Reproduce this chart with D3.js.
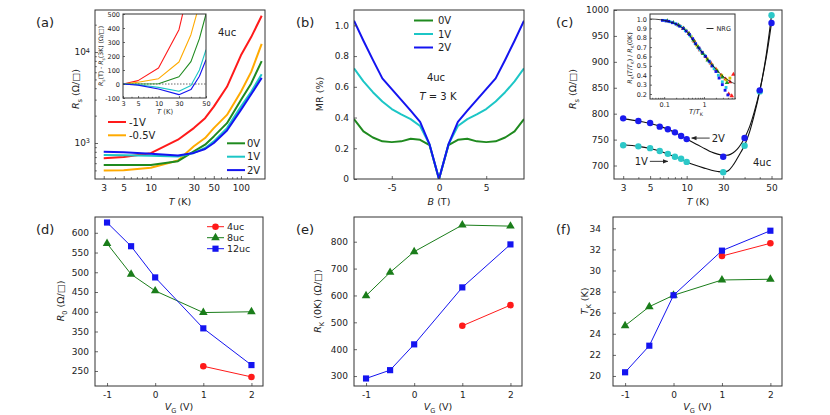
<!DOCTYPE html>
<html>
<head>
<meta charset="utf-8">
<script src="https://cdn.jsdelivr.net/npm/d3@7/dist/d3.min.js"></script>
<style>
  body { margin: 0; background: #fff; }
</style>
</head>
<body>
<script>
// ---------- panel (a): Rs(T) for five gate voltages ----------
const aTemps = [3, 5, 10, 20, 30, 40, 50, 70, 100, 130, 170];
const aRsM1  = [681, 700, 772, 1087, 1459, 1874, 2512, 4150, 9210, 14600, 25100];
const aRsM05 = [497, 503, 535, 641, 920, 1134, 1458, 2037, 3664, 6050, 12300];
const aRs0   = [573, 573, 573, 631, 811, 959, 1182, 1653, 2970, 4520, 7950];
const aRs1   = [740, 733, 726, 712, 778, 882, 1043, 1458, 2512, 3664, 5700];
const aRs2   = [803, 790, 762, 728, 778, 860, 1000, 1374, 2310, 3430, 5200];
const gateNames = ['-1V', '-0.5V', '0V', '1V', '2V'];
const gateColors = ['#ff1a1a', '#ffaa00', '#1f8a1f', '#1cc6c6', '#1414f0'];
const aXTicks = [3, 5, 10, 30, 50, 100];
const aXMinor = [4, 6, 7, 8, 9, 20, 40, 60, 70, 80, 90];
const aYTicks = [1000, 10000];
const aYMinor = [500, 600, 700, 800, 900, 2000, 3000, 4000, 5000, 6000, 7000, 8000, 9000, 20000];

// inset of (a): Rs(T) - Rs(3K)
const inTemps = [3, 5, 10, 20, 30, 40, 50];
const inM1  = [0, 24, 114, 388, 750, 1200, 1700];
const inM05 = [0, 12, 38, 157, 352, 570, 900];
const in0   = [0, 0, 2, 52, 160, 324, 500];
const in1   = [0, -5, -24, -52, -10, 100, 245];
const in2   = [0, -8, -36, -76, -40, 55, 174];
const inXTicks = [3, 5, 10, 20, 50];
const inXLabels = ['3', '5', '10', '30', '50'];
const inXMinor = [4, 6, 7, 8, 9, 30, 40];
const inYTicks = [-100, 0, 100, 200, 300, 400, 500];

// ---------- panel (b): magnetoresistance ----------
const bField = [-9, -8, -7, -6, -5, -4, -3, -2, -1, 0, 1, 2, 3, 4, 5, 6, 7, 8, 9];
const bMR0 = [0.39, 0.31, 0.27, 0.245, 0.24, 0.245, 0.262, 0.255, 0.22, 0, 0.22, 0.255, 0.262, 0.245, 0.24, 0.245, 0.27, 0.31, 0.39];
const bMR1 = [0.72, 0.635, 0.565, 0.505, 0.455, 0.42, 0.39, 0.345, 0.225, 0, 0.225, 0.345, 0.39, 0.42, 0.455, 0.505, 0.565, 0.635, 0.72];
const bMR2 = [1.03, 0.9, 0.775, 0.655, 0.585, 0.515, 0.445, 0.372, 0.225, 0, 0.225, 0.372, 0.445, 0.515, 0.585, 0.655, 0.775, 0.9, 1.03];
const bNames = ['0V', '1V', '2V'];
const bColors = ['#1f8a1f', '#1cc6c6', '#1414f0'];
const bXTicks = [-5, 0, 5];
const bYTicks = [0, 0.2, 0.4, 0.6, 0.8, 1.0];

// ---------- panel (c): Rs(T) with fits ----------
const cTemps = [3, 4, 5, 6, 7, 8, 9, 10, 20, 30, 40, 50];
const cRs2V = [791, 786, 782, 775, 770, 764, 757, 751, 717, 753, 845, 975];
const cRs1V = [739, 737, 733.5, 728, 722.5, 717, 713, 707, 687, 738, 843, 990];
const cFitT = [3, 4, 5, 6, 7, 8, 9, 10, 12, 14, 16, 18, 20, 22, 24, 26, 28, 30, 33, 36, 40, 45, 50];
const cFit2V = [790, 786, 781, 776, 770, 764, 757, 751, 741, 733, 726, 722, 720, 720, 724, 731, 741, 753, 775, 803, 845, 905, 975];
const cFit1V = [740, 737, 733, 728, 722, 717, 712, 707, 700, 695, 691, 688.5, 687.5, 690, 700, 713, 726, 739, 765, 797, 843, 910, 990];
const cXTicks = [3, 5, 10, 20, 50];
const cXLabels = ['3', '5', '10', '30', '50'];
const cXMinor = [4, 6, 7, 8, 9, 30, 40];
const cYTicks = [700, 750, 800, 850, 900, 950, 1000];

// inset of (c): scaled resistance vs T/TK
const nrgX = [0.044, 0.07, 0.1, 0.15, 0.2, 0.3, 0.4, 0.5, 0.6, 0.8, 1.0, 1.3, 1.6, 2.0, 2.5, 3, 4, 5, 6];
const nrgY = [1.0, 0.995, 0.985, 0.965, 0.945, 0.9, 0.85, 0.79, 0.74, 0.67, 0.62, 0.555, 0.51, 0.465, 0.42, 0.39, 0.35, 0.325, 0.31];
const scRedX = [0.3, 0.42, 0.58, 0.8, 1.1, 1.5, 2.0, 2.7, 3.5, 4.5, 5.5, 4.2, 5.0];
const scRedY = [0.9, 0.845, 0.76, 0.67, 0.6, 0.53, 0.465, 0.4, 0.36, 0.33, 0.41, 0.2, 0.18];
const scYelX = [0.25, 0.35, 0.48, 0.65, 0.9, 1.2, 1.6, 2.1, 2.8, 3.6, 4.5];
const scYelY = [0.925, 0.88, 0.81, 0.72, 0.64, 0.575, 0.51, 0.455, 0.4, 0.35, 0.37];
const scGrnX = [0.12, 0.17, 0.23, 0.31, 0.42, 0.55, 0.72, 0.95, 1.25, 1.65, 2.2, 2.9, 3.8];
const scGrnY = [0.98, 0.96, 0.935, 0.9, 0.845, 0.775, 0.7, 0.63, 0.56, 0.5, 0.44, 0.38, 0.32];
const scCynX = [0.1, 0.14, 0.19, 0.26, 0.34, 0.45, 0.6, 0.8, 1.05, 1.4, 1.8, 2.3, 2.9, 3.6];
const scCynY = [0.985, 0.97, 0.95, 0.92, 0.875, 0.82, 0.74, 0.67, 0.61, 0.54, 0.47, 0.4, 0.33, 0.27];
const scBluX = [0.09, 0.11, 0.13, 0.16, 0.2, 0.24, 0.3, 0.36, 0.43, 0.52, 0.62, 0.75, 0.9, 1.1, 1.35, 1.6, 2.0, 2.4, 2.9, 3.4, 4.0];
const scBluY = [0.985, 0.98, 0.975, 0.96, 0.945, 0.925, 0.9, 0.87, 0.835, 0.79, 0.735, 0.69, 0.645, 0.6, 0.55, 0.5, 0.44, 0.37, 0.3, 0.24, 0.19];
const ciXTicks = [0.1, 1];
const ciXMinor = [0.05, 0.06, 0.07, 0.08, 0.09, 0.2, 0.3, 0.4, 0.5, 0.6, 0.7, 0.8, 0.9, 2, 3, 4, 5, 6];
const ciYTicks = [0.2, 0.3, 0.4, 0.5, 0.6, 0.7, 0.8, 0.9, 1.0];

// ---------- panels (d)-(f): fit parameters vs gate voltage ----------
const vg = [-1, -0.5, 0, 1, 2];
const vg4 = [1, 2];
const r0_12 = [626, 566, 487, 358, 265];
const r0_8  = [573, 495, 453, 398, 400];
const r0_4  = [262, 235];
const rk_12 = [291, 322, 418, 630, 790];
const rk_8  = [599, 686, 763, 862, 858];
const rk_4  = [487, 564];
const tk_12 = [20.35, 22.87, 27.65, 31.88, 33.77];
const tk_8  = [24.77, 26.57, 27.65, 29.1, 29.17];
const tk_4  = [31.37, 32.58];
const sampleNames = ['4uc', '8uc', '12uc'];
const sampleColors = ['#ff1a1a', '#1a7d1a', '#1414f0'];
const vgTicks = [-1, 0, 1, 2];

// ---------- helpers ----------
const INK = '#222';
const svg = d3.select('body').append('svg')
  .attr('width', 830).attr('height', 415)
  .attr('font-family', 'DejaVu Sans, sans-serif');

const defs = svg.append('defs');
defs.append('marker').attr('id', 'arr')
  .attr('viewBox', '0 0 10 10').attr('refX', 9).attr('refY', 5)
  .attr('markerWidth', 6).attr('markerHeight', 6).attr('orient', 'auto')
  .append('path').attr('d', 'M0,1L10,5L0,9Z').attr('fill', INK);

function clip(id, x, y) {
  const [x0, x1] = x.range(), [y1, y0] = y.range();
  defs.append('clipPath').attr('id', id).append('rect')
    .attr('x', x0).attr('y', y0).attr('width', x1 - x0).attr('height', y1 - y0);
  return `url(#${id})`;
}

function axes(g, x, y, o) {
  const fs = o.fs || 9, tk = o.tk || 3;
  const [xl, xr] = x.range(), [yb, yt] = y.range();
  const tidy = s => {
    s.attr('font-family', null).attr('font-size', fs);
    s.select('.domain').remove();
    s.selectAll('.tick line').attr('stroke', '#444').attr('stroke-width', 0.8);
    s.selectAll('.tick text').attr('fill', INK);
  };
  const xg = g.append('g').attr('transform', `translate(0,${yb})`)
    .call(d3.axisBottom(x).tickValues(o.xt).tickFormat(o.xf || (d => String(d)))
      .tickSizeInner(-tk).tickSizeOuter(0).tickPadding(o.xp || 6))
    .call(tidy);
  const yg = g.append('g').attr('transform', `translate(${xl},0)`)
    .call(d3.axisLeft(y).tickValues(o.yt).tickFormat(o.yf || (d => String(d)))
      .tickSizeInner(-tk).tickSizeOuter(0).tickPadding(o.yp || 6))
    .call(tidy);
  if (o.xm) g.append('g').attr('transform', `translate(0,${yb})`)
    .call(d3.axisBottom(x).tickValues(o.xm).tickFormat('').tickSizeInner(-tk * 0.6).tickSizeOuter(0))
    .call(tidy);
  if (o.ym) g.append('g').attr('transform', `translate(${xl},0)`)
    .call(d3.axisLeft(y).tickValues(o.ym).tickFormat('').tickSizeInner(-tk * 0.6).tickSizeOuter(0))
    .call(tidy);
  g.append('rect').attr('x', xl).attr('y', yt).attr('width', xr - xl).attr('height', yb - yt)
    .attr('fill', 'none').attr('stroke', '#333').attr('stroke-width', 1);
  return { xg, yg };
}

// text built from pieces: {t, i: italic, sub: subscript}
function rich(g, parts, x, y, o = {}) {
  const fs = o.fs || 9.5;
  const t = g.append('text').attr('x', x).attr('y', y)
    .attr('text-anchor', o.anchor || 'middle').attr('font-size', fs).attr('fill', INK);
  if (o.rotate) t.attr('transform', `rotate(-90,${x},${y})`);
  let shift = 0;
  parts.forEach(p => {
    const s = t.append('tspan').text(p.t);
    if (p.i) s.attr('font-style', 'italic');
    const want = p.sub ? fs * 0.28 : 0;
    if (want !== shift) { s.attr('dy', want - shift); shift = want; }
    if (p.sub) s.attr('font-size', fs * 0.7);
  });
  return t;
}

function series(g, x, y, xs, ys, color, w, clipUrl, curve) {
  g.append('path').datum(d3.zip(xs, ys))
    .attr('d', d3.line().x(d => x(d[0])).y(d => y(d[1])).curve(curve || d3.curveLinear))
    .attr('fill', 'none').attr('stroke', color).attr('stroke-width', w)
    .attr('stroke-linejoin', 'round').attr('clip-path', clipUrl || null);
}

function markers(g, x, y, xs, ys, color, shape, size) {
  g.selectAll(null).data(d3.zip(xs, ys)).join('path')
    .attr('transform', d => `translate(${x(d[0])},${y(d[1])})`)
    .attr('d', d3.symbol().type(shape).size(size))
    .attr('fill', color);
}

function panelTag(txt, x, y) {
  svg.append('text').attr('x', x).attr('y', y).attr('font-size', 13).attr('fill', INK).text(txt);
}

// ---------- (a) ----------
{
  const g = svg.append('g');
  const x = d3.scaleLog().domain([2.4, 185]).range([95, 265]);
  const y = d3.scaleLog().domain([402, 29000]).range([179, 10]);
  const cp = clip('clipA', x, y);
  [aRsM1, aRsM05, aRs0, aRs1, aRs2].forEach((v, i) => series(g, x, y, aTemps, v, gateColors[i], 2, cp));
  const ax = axes(g, x, y, { xt: aXTicks, xm: aXMinor, yt: aYTicks, ym: aYMinor, yf: () => '', xp: 6, yp: 5 });
  ax.yg.selectAll('.tick text').each(function (d) {
    const t = d3.select(this);
    t.append('tspan').text('10');
    t.append('tspan').attr('dy', '-0.45em').attr('font-size', 6.5).text(Math.round(Math.log10(d)));
  });
  // legends
  [0, 1].forEach(i => {
    const ly = 122 + i * 13.3;
    g.append('line').attr('x1', 108).attr('x2', 126).attr('y1', ly).attr('y2', ly)
      .attr('stroke', gateColors[i]).attr('stroke-width', 2);
    g.append('text').attr('x', 129).attr('y', ly + 3.5).attr('font-size', 10).attr('fill', INK).text(gateNames[i]);
  });
  [2, 3, 4].forEach((i, k) => {
    const ly = 143.3 + k * 13.4;
    g.append('line').attr('x1', 227).attr('x2', 245).attr('y1', ly).attr('y2', ly)
      .attr('stroke', gateColors[i]).attr('stroke-width', 2);
    g.append('text').attr('x', 247).attr('y', ly + 3.5).attr('font-size', 10).attr('fill', INK).text(gateNames[i]);
  });
  g.append('text').attr('x', 218).attr('y', 35.5).attr('font-size', 10).attr('fill', INK).text('4uc');
  rich(g, [{ t: 'R', i: 1 }, { t: 's', sub: 1 }, { t: ' (Ω/□)' }], 79, 89, { rotate: 1 });
  rich(g, [{ t: 'T', i: 1 }, { t: ' (K)' }], 180, 205);

  // inset
  const gi = svg.append('g');
  const xi = d3.scaleLog().domain([3, 50]).range([123, 206]);
  const yi = d3.scaleLinear().domain([-100, 500]).range([98, 14]);
  gi.append('rect').attr('x', 123).attr('y', 14).attr('width', 83).attr('height', 84).attr('fill', '#fff');
  const cpi = clip('clipAi', xi, yi);
  gi.append('line').attr('x1', xi(3)).attr('x2', xi(50)).attr('y1', yi(0)).attr('y2', yi(0))
    .attr('stroke', '#444').attr('stroke-width', 0.8).attr('stroke-dasharray', '1.5,1.5');
  [inM1, inM05, in0, in1, in2].forEach((v, i) => series(gi, xi, yi, inTemps, v, gateColors[i], 1.1, cpi));
  axes(gi, xi, yi, { xt: inXTicks, xf: (d, i) => inXLabels[i], xm: inXMinor, yt: inYTicks,
    fs: 6.5, tk: 2, xp: 3, yp: 3 });
  rich(gi, [{ t: 'R', i: 1 }, { t: 's', sub: 1 }, { t: '(T) - ' }, { t: 'R', i: 1 }, { t: 's', sub: 1 }, { t: '(3K) (Ω/□)' }],
    103, 56, { rotate: 1, fs: 6.2 });
  rich(gi, [{ t: 'T', i: 1 }, { t: ' (K)' }], 165, 114, { fs: 6.8 });
}
panelTag('(a)', 36, 27);

// ---------- (b) ----------
{
  const g = svg.append('g');
  const x = d3.scaleLinear().domain([-9, 9]).range([354, 524]);
  const y = d3.scaleLinear().domain([0, 1.1]).range([179, 10]);
  const cp = clip('clipB', x, y);
  [bMR0, bMR1, bMR2].forEach((v, i) => series(g, x, y, bField, v, bColors[i], 2, cp));
  axes(g, x, y, { xt: bXTicks, yt: bYTicks, yf: d => d === 0 ? '0' : d3.format('.1f')(d), yp: 5 });
  bNames.forEach((n, i) => {
    const ly = 20.5 + i * 13.5;
    g.append('line').attr('x1', 414).attr('x2', 433).attr('y1', ly).attr('y2', ly)
      .attr('stroke', bColors[i]).attr('stroke-width', 2);
    g.append('text').attr('x', 438).attr('y', ly + 3.5).attr('font-size', 10).attr('fill', INK).text(n);
  });
  g.append('text').attr('x', 436).attr('y', 80.5).attr('text-anchor', 'middle')
    .attr('font-size', 10).attr('fill', INK).text('4uc');
  rich(g, [{ t: 'T', i: 1 }, { t: ' = 3 K' }], 438, 99.5, { fs: 10 });
  rich(g, [{ t: 'MR (%)' }], 323, 94, { rotate: 1 });
  rich(g, [{ t: 'B', i: 1 }, { t: ' (T)' }], 439, 205);
}
panelTag('(b)', 296, 27);

// ---------- (c) ----------
{
  const g = svg.append('g');
  const x = d3.scaleLog().domain([2.52, 61]).range([614, 782]);
  const y = d3.scaleLinear().domain([674, 1000]).range([179, 10]);
  const cp = clip('clipC', x, y);
  series(g, x, y, cFitT, cFit1V, '#111', 1.1, cp, d3.curveCatmullRom);
  series(g, x, y, cFitT, cFit2V, '#111', 1.1, cp, d3.curveCatmullRom);
  g.selectAll(null).data(d3.zip(cTemps, cRs1V)).join('circle')
    .attr('cx', d => x(d[0])).attr('cy', d => y(d[1])).attr('r', 3.2).attr('fill', '#2cc8c8');
  g.selectAll(null).data(d3.zip(cTemps, cRs2V)).join('circle')
    .attr('cx', d => x(d[0])).attr('cy', d => y(d[1])).attr('r', 3.2).attr('fill', '#1a1aee');
  axes(g, x, y, { xt: cXTicks, xf: (d, i) => cXLabels[i], xm: cXMinor, yt: cYTicks, yp: 5 });
  // arrows
  const a2 = [x(10) + 5, y(751) - 1];
  g.append('line').attr('x1', a2[0] + 18).attr('y1', a2[1]).attr('x2', a2[0]).attr('y2', a2[1])
    .attr('stroke', INK).attr('stroke-width', 0.9).attr('marker-end', 'url(#arr)');
  g.append('text').attr('x', a2[0] + 20).attr('y', a2[1] + 3.8).attr('font-size', 10).attr('fill', INK).text('2V');
  const a1 = [x(7), y(722.5) + 7.5];
  g.append('line').attr('x1', a1[0] - 18).attr('y1', a1[1]).attr('x2', a1[0]).attr('y2', a1[1])
    .attr('stroke', INK).attr('stroke-width', 0.9).attr('marker-end', 'url(#arr)');
  g.append('text').attr('x', a1[0] - 20).attr('y', a1[1] + 3.8).attr('text-anchor', 'end')
    .attr('font-size', 10).attr('fill', INK).text('1V');
  g.append('text').attr('x', 753).attr('y', 165.5).attr('font-size', 10).attr('fill', INK).text('4uc');
  rich(g, [{ t: 'R', i: 1 }, { t: 's', sub: 1 }, { t: ' (Ω/□)' }], 576, 89, { rotate: 1 });
  rich(g, [{ t: 'T', i: 1 }, { t: ' (K)' }], 698, 205);

  // inset
  const gi = svg.append('g');
  const xi = d3.scaleLog().domain([0.044, 6.04]).range([650, 735]);
  const yi = d3.scaleLinear().domain([0.147, 1.053]).range([99, 14]);
  gi.append('rect').attr('x', 650).attr('y', 14).attr('width', 85).attr('height', 85).attr('fill', '#fff');
  const gm = gi.append('g').attr('clip-path', clip('clipCi', xi, yi));
  markers(gm, xi, yi, scRedX, scRedY, '#ff2020', d3.symbolTriangle, 9);
  markers(gm, xi, yi, scYelX, scYelY, '#d6c800', d3.symbolSquare, 8);
  markers(gm, xi, yi, scGrnX, scGrnY, '#1f9a1f', d3.symbolTriangle, 9);
  markers(gm, xi, yi, scCynX, scCynY, '#20c8e0', d3.symbolSquare, 8);
  markers(gm, xi, yi, scBluX, scBluY, '#1414f0', d3.symbolSquare, 8);
  series(gm, xi, yi, nrgX, nrgY, '#111', 0.8, null, d3.curveCatmullRom);
  axes(gi, xi, yi, { xt: ciXTicks, xf: d => String(d), xm: ciXMinor, yt: ciYTicks,
    yf: d3.format('.1f'), fs: 6.5, tk: 2, xp: 3, yp: 3 });
  gi.append('line').attr('x1', 706.5).attr('x2', 713.5).attr('y1', 28.5).attr('y2', 28.5)
    .attr('stroke', '#111').attr('stroke-width', 0.9);
  gi.append('text').attr('x', 716.5).attr('y', 30.8).attr('font-size', 6.5).attr('fill', INK).text('NRG');
  rich(gi, [{ t: 'R', i: 1 }, { t: 'K', sub: 1 }, { t: '(' }, { t: 'T', i: 1 }, { t: '/' }, { t: 'T', i: 1 }, { t: 'K', sub: 1 },
    { t: ') / ' }, { t: 'R', i: 1 }, { t: 'K', sub: 1 }, { t: '(0K)' }], 632, 58, { rotate: 1, fs: 6.3 });
  rich(gi, [{ t: 'T', i: 1 }, { t: '/' }, { t: 'T', i: 1 }, { t: 'K', sub: 1 }], 696, 114, { fs: 7 });
}
panelTag('(c)', 556, 27);

// ---------- (d), (e), (f) ----------
function vgPanel(x0, x1, ydom, yticks, d12, d8, d4, ylab, ylabX, yp, legend) {
  const g = svg.append('g');
  const x = d3.scaleLinear().domain([-1.25, 2.24]).range([x0, x1]);
  const y = d3.scaleLinear().domain(ydom).range([386, 217]);
  series(g, x, y, vg4, d4, sampleColors[0], 1, null);
  series(g, x, y, vg, d8, sampleColors[1], 1, null);
  series(g, x, y, vg, d12, sampleColors[2], 1, null);
  markers(g, x, y, vg4, d4, sampleColors[0], d3.symbolCircle, 34);
  markers(g, x, y, vg, d8, sampleColors[1], d3.symbolTriangle, 32);
  markers(g, x, y, vg, d12, sampleColors[2], d3.symbolSquare, 38);
  axes(g, x, y, { xt: vgTicks, yt: yticks, yp });
  rich(g, [{ t: 'V', i: 1 }, { t: 'G', sub: 1 }, { t: ' (V)' }], (x0 + x1) / 2, 410);
  rich(g, ylab, ylabX, 301, { rotate: 1 });
  if (legend) {
    const shapes = [d3.symbolCircle, d3.symbolTriangle, d3.symbolSquare];
    sampleNames.forEach((n, i) => {
      const ly = 226.7 + i * 11;
      g.append('line').attr('x1', 207).attr('x2', 224).attr('y1', ly).attr('y2', ly)
        .attr('stroke', sampleColors[i]).attr('stroke-width', 1);
      g.append('path').attr('transform', `translate(215.5,${ly})`)
        .attr('d', d3.symbol().type(shapes[i]).size([34, 32, 38][i])).attr('fill', sampleColors[i]);
      g.append('text').attr('x', 227).attr('y', ly + 3.5).attr('font-size', 9.5).attr('fill', INK).text(n);
    });
  }
}
vgPanel(95, 263, [212, 640], [250, 300, 350, 400, 450, 500, 550, 600], r0_12, r0_8, r0_4,
  [{ t: 'R', i: 1 }, { t: '0', sub: 1 }, { t: ' (Ω/□)' }], 64, 6, true);
panelTag('(d)', 36, 234);
vgPanel(354, 522, [263, 892], [300, 400, 500, 600, 700, 800], rk_12, rk_8, rk_4,
  [{ t: 'R', i: 1 }, { t: 'K', sub: 1 }, { t: ' (0K) (Ω/□)' }], 321, 6, false);
panelTag('(e)', 296, 234);
vgPanel(613, 782, [19.05, 35.07], [20, 22, 24, 26, 28, 30, 32, 34], tk_12, tk_8, tk_4,
  [{ t: 'T', i: 1 }, { t: 'K', sub: 1 }, { t: ' (K)' }], 588, 12, false);
panelTag('(f)', 556, 234);
</script>
</body>
</html>
